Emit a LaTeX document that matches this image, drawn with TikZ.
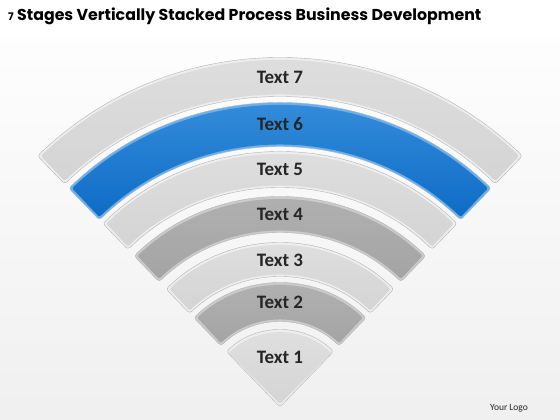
\documentclass[tikz,border=0pt]{standalone}
\usepackage{fontspec}
\setmainfont{Carlito}
\newfontfamily\titlefont{Poppins}
\usetikzlibrary{calc}
\definecolor{txt}{HTML}{262626}
\definecolor{lrim}{HTML}{EEEEEE}
\definecolor{ltop}{HTML}{E0E0E0}
\definecolor{lbot}{HTML}{D4D4D4}
\definecolor{mrim}{HTML}{CBCBCB}
\definecolor{mtop}{HTML}{B2B2B2}
\definecolor{mbot}{HTML}{A4A4A4}
\definecolor{brim}{HTML}{6AB0EC}
\definecolor{btop}{HTML}{3C92DE}
\definecolor{bbot}{HTML}{0E6CC6}
\tikzset{
  lbl/.style={font=\bfseries\fontsize{19}{21}\selectfont, text=txt},
}
\newcommand\fanband[5]{%
  \pgfmathsetmacro\da{2.2/((#1+#2)/2)*57.3}%
  \pgfmathsetmacro\sa{46+\da}\pgfmathsetmacro\ea{134-\da}%
  \pgfmathsetmacro\ri{#1+2.2}\pgfmathsetmacro\ro{#2-2.2}%
  \draw[rounded corners=3pt, fill=#3, draw=gray!60, line width=0.4pt]
    ($(O)+(46:#2)$) arc[start angle=46,end angle=134,radius=#2pt]
    -- ($(O)+(134:#1)$) arc[start angle=134,end angle=46,radius=#1pt] -- cycle;
  \shade[rounded corners=2pt, top color=#4, bottom color=#5]
    ($(O)+(\sa:\ro)$) arc[start angle=\sa,end angle=\ea,radius=\ro pt]
    -- ($(O)+(\ea:\ri)$) arc[start angle=\ea,end angle=\sa,radius=\ri pt] -- cycle;
}
\begin{document}
\begin{tikzpicture}[x=1pt,y=1pt]
\useasboundingbox (0,0) rectangle (560,420);
\shade[top color=white, bottom color=gray!12] (0,0) rectangle (560,420);
\fill[white] (0,382) rectangle (560,420);
\coordinate (O) at (280,13);
% bands
\fanband{310}{349}{lrim}{ltop}{lbot}
\fanband{260}{304}{brim}{btop}{bbot}
\fanband{219}{255}{lrim}{ltop}{lbot}
\fanband{174}{210}{mrim}{mtop}{mbot}
\fanband{130}{164}{lrim}{ltop}{lbot}
\fanband{85}{124}{mrim}{mtop}{mbot}
% sector 1
\draw[rounded corners=3pt, fill=lrim, draw=gray!60, line width=0.4pt]
  (O) -- ($(O)+(46:77)$) arc[start angle=46,end angle=134,radius=77pt] -- cycle;
\shade[rounded corners=2pt, top color=ltop, bottom color=lbot]
  ($(O)+(0,3.2)$) -- ($(O)+(46.5:74.5)$) arc[start angle=46.5,end angle=133.5,radius=74.5pt] -- cycle;
% labels
\node[lbl] (t7) at (280,343) {Text 7};
\node[lbl] (t6) at (280,296) {Text 6};
\node[lbl] (t5) at (280,251) {Text 5};
\node[lbl] (t4) at (280,206) {Text 4};
\node[lbl] (t3) at (280,160) {Text 3};
\node[lbl] (t2) at (280,118) {Text 2};
\node[lbl] (t1) at (280,63) {Text 1};
% title
\node[anchor=west, inner sep=0pt, font=\titlefont\bfseries\fontsize{15.8}{18}\selectfont] (title) at (8,404)
  {{\fontsize{10.5}{12}\selectfont 7} Stages Vertically Stacked Process Business Development};
\node[font=\fontsize{9.5}{11}\selectfont, text=txt] (logo) at (509,12) {Your Logo};
\end{tikzpicture}
\end{document}
